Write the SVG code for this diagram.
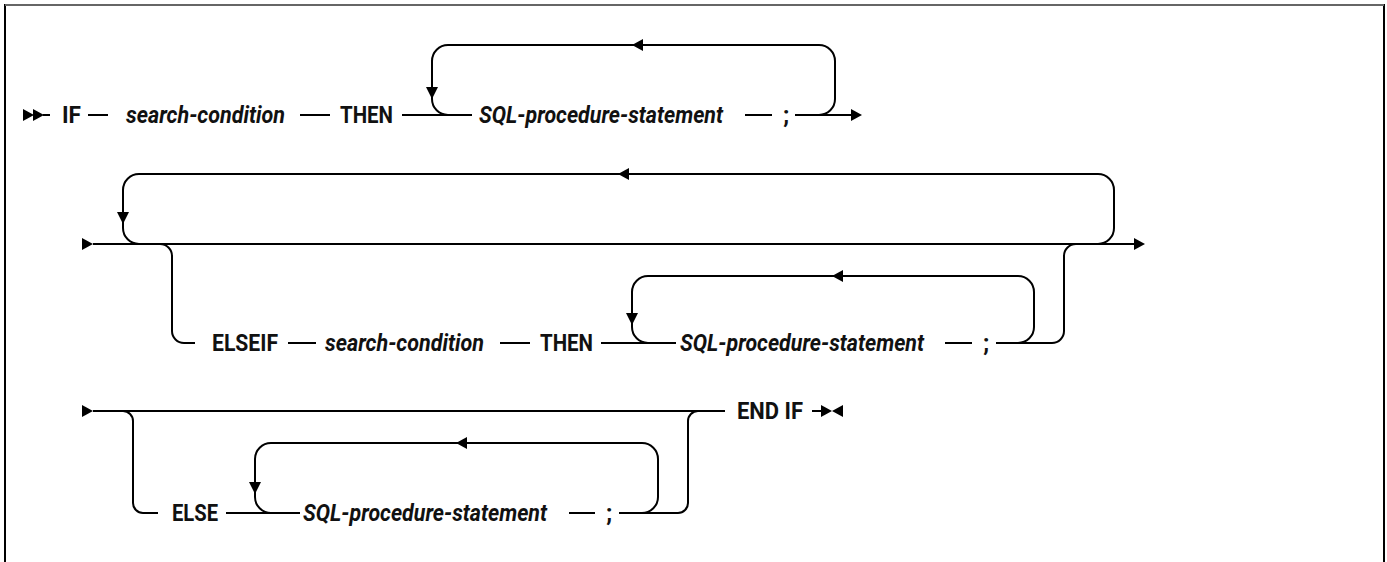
<svg xmlns="http://www.w3.org/2000/svg" xmlns:xlink="http://www.w3.org/1999/xlink" width="1387" height="562" viewBox="0 0 1387 562">
<style>
.ln{fill:none;stroke:#000;stroke-width:2}
.ah{fill:#000;stroke:none}
.kw{font-family:Roboto,"Liberation Sans",Arial,sans-serif;font-size:24px;font-weight:bold;fill:#111}
.nt{font-family:Roboto,"Liberation Sans",Arial,sans-serif;font-size:24px;font-weight:bold;font-style:italic;fill:#111}
.frame{fill:none;stroke:#000;stroke-width:2}
</style>
<defs>
<path id="ar" d="M0,-6 L11,0 L0,6 Z"/>
<path id="al" d="M0,-6 L-11,0 L0,6 Z"/>
<path id="ad" d="M-6,-12 L6,-12 L0,0 Z"/>
</defs>
<rect width="1387" height="562" fill="#fff"/>
<path class="frame" d="M5,562 V5 H1384 V562"/>
<path d="M5,5 H1384" stroke="#666" stroke-width="2" fill="none"/>

<g id="connectors">
  <!-- row 1 -->
  <use href="#ar" class="ah" x="23" y="115"/>
  <use href="#ar" class="ah" x="33" y="115"/>
  <path class="ln" d="M43,115 H50"/>
  <path class="ln" d="M88,115 H108"/>
  <path class="ln" d="M300,115 H330"/>
  <path class="ln" d="M402,115 H472"/>
  <path class="ln" d="M448,115 A16,16 0 0 1 432,99 V61 A16,16 0 0 1 448,45 H819 A16,16 0 0 1 835,61 V99 A16,16 0 0 1 819,115"/>
  <use href="#ad" class="ah" x="432" y="99"/>
  <use href="#al" class="ah" x="643" y="45"/>
  <path class="ln" d="M745,115 H772"/>
  <path class="ln" d="M795,115 H852"/>
  <use href="#ar" class="ah" x="851" y="115"/>

  <!-- row 2 -->
  <use href="#ar" class="ah" x="82" y="244"/>
  <path class="ln" d="M93,244 H1134"/>
  <use href="#ar" class="ah" x="1134" y="244"/>
  <path class="ln" d="M139,244 A16,16 0 0 1 123,228 V190 A16,16 0 0 1 139,174 H1098 A16,16 0 0 1 1114,190 V228 A16,16 0 0 1 1098,244"/>
  <use href="#ad" class="ah" x="123" y="224"/>
  <use href="#al" class="ah" x="629" y="174"/>
  <path class="ln" d="M160,244 A12,12 0 0 1 172,256 V331 A12,12 0 0 0 184,343 H195"/>
  <path class="ln" d="M288,343 H316"/>
  <path class="ln" d="M500,343 H530"/>
  <path class="ln" d="M601,343 H676"/>
  <path class="ln" d="M648,343 A16,16 0 0 1 632,327 V292 A16,16 0 0 1 648,276 H1018 A16,16 0 0 1 1034,292 V327 A16,16 0 0 1 1018,343"/>
  <use href="#ad" class="ah" x="632" y="325"/>
  <use href="#al" class="ah" x="843" y="276"/>
  <path class="ln" d="M945,343 H972"/>
  <path class="ln" d="M996,343 H1052 A12,12 0 0 0 1064,331 V256 A12,12 0 0 1 1076,244"/>

  <!-- row 3 -->
  <use href="#ar" class="ah" x="82" y="411"/>
  <path class="ln" d="M93,411 H725"/>
  <path class="ln" d="M123,411 A10,10 0 0 1 133,421 V503 A10,10 0 0 0 143,513 H158"/>
  <path class="ln" d="M226,513 H300"/>
  <path class="ln" d="M271,513 A16,16 0 0 1 255,497 V459 A16,16 0 0 1 271,443 H642 A16,16 0 0 1 658,459 V497 A16,16 0 0 1 642,513"/>
  <use href="#ad" class="ah" x="255" y="494"/>
  <use href="#al" class="ah" x="467" y="443"/>
  <path class="ln" d="M569,513 H595"/>
  <path class="ln" d="M619,513 H678 A10,10 0 0 0 688,503 V421 A10,10 0 0 1 698,411"/>
  <path class="ln" d="M812,411 H822"/>
  <use href="#ar" class="ah" x="821" y="411"/>
  <use href="#al" class="ah" x="843" y="411"/>
</g>

<g id="n-if"><text class="kw" x="62" y="123" textLength="19" lengthAdjust="spacingAndGlyphs">IF</text></g>
<g id="n-search1"><text class="nt" x="126" y="123" textLength="159" lengthAdjust="spacingAndGlyphs">search-condition</text></g>
<g id="n-then1"><text class="kw" x="340" y="123" textLength="53" lengthAdjust="spacingAndGlyphs">THEN</text></g>
<g id="n-sql1"><text class="nt" x="479" y="123" textLength="244" lengthAdjust="spacingAndGlyphs">SQL-procedure-statement</text></g>
<g id="n-semi1"><text class="kw" x="783" y="123">;</text></g>

<g id="n-elseif"><text class="kw" x="212" y="351" textLength="66" lengthAdjust="spacingAndGlyphs">ELSEIF</text></g>
<g id="n-search2"><text class="nt" x="325" y="351" textLength="159" lengthAdjust="spacingAndGlyphs">search-condition</text></g>
<g id="n-then2"><text class="kw" x="540" y="351" textLength="53" lengthAdjust="spacingAndGlyphs">THEN</text></g>
<g id="n-sql2"><text class="nt" x="680" y="351" textLength="244" lengthAdjust="spacingAndGlyphs">SQL-procedure-statement</text></g>
<g id="n-semi2"><text class="kw" x="983" y="351">;</text></g>

<g id="n-else"><text class="kw" x="172" y="521" textLength="46" lengthAdjust="spacingAndGlyphs">ELSE</text></g>
<g id="n-sql3"><text class="nt" x="303" y="521" textLength="244" lengthAdjust="spacingAndGlyphs">SQL-procedure-statement</text></g>
<g id="n-semi3"><text class="kw" x="606" y="521">;</text></g>
<g id="n-endif"><text class="kw" x="737" y="419" textLength="66" lengthAdjust="spacingAndGlyphs">END IF</text></g>
</svg>
